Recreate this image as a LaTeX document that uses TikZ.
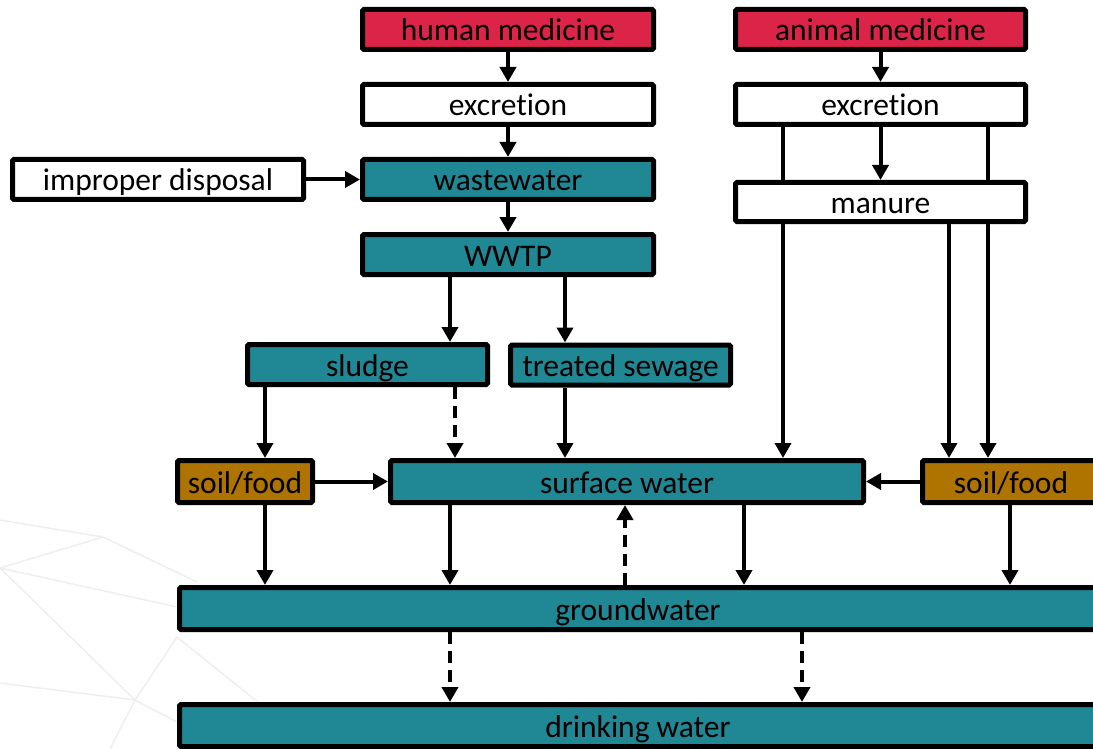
\documentclass[tikz,border=0pt]{standalone}
\usepackage{fontspec}
\setmainfont{Carlito}[Ligatures={NoCommon}]
\usetikzlibrary{arrows.meta}
\definecolor{medred}{RGB}{220,35,72}
\definecolor{tealc}{RGB}{32,135,148}
\definecolor{soil}{RGB}{175,115,0}
\definecolor{faint}{RGB}{238,238,238}
\tikzset{
  box/.style={draw, line width=5pt, rounded corners=1.5pt, inner sep=0pt,
    font=\fontsize{31.5}{36}\selectfont, text=black, text height=24pt, text depth=1pt,
    minimum height=40pt, anchor=center},
  redbox/.style={box, fill=medred},
  whitebox/.style={box, fill=white},
  tealbox/.style={box, fill=tealc},
  soilbox/.style={box, fill=soil},
  arr/.style={line width=4pt, -{Triangle[length=15pt,width=16pt]}},
  darr/.style={arr, dash pattern=on 12pt off 7pt},
  bgline/.style={faint, line width=1.5pt},
}
\begin{document}
\begin{tikzpicture}[x=1pt,y=-1pt]
\useasboundingbox (0,0) rectangle (1093,749);
% faint background lines
\draw[bgline] (0,520) -- (103,537) -- (197,582);
\draw[bgline] (0,568) -- (103,537);
\draw[bgline] (0,568) -- (177,607);
\draw[bgline] (0,568) -- (135,700) -- (177,722);
\draw[bgline] (0,683) -- (135,700) -- (110,749);
\draw[bgline] (177,637) -- (135,700);
\draw[bgline] (177,637) -- (280,720);

% column coordinates
\coordinate (c265) at (265,0);
\coordinate (c450) at (450,0);
\coordinate (c455) at (455,0);
\coordinate (c565) at (565,0);
\coordinate (c625) at (625,0);
\coordinate (c744) at (744,0);
\coordinate (c783) at (783,0);
\coordinate (c802) at (802,0);
\coordinate (c949) at (949,0);
\coordinate (c988) at (988,0);
\coordinate (c1010) at (1010,0);

% nodes
\node[redbox, minimum width=291pt] (hm) at (508,29.5) {human medicine};
\node[whitebox, minimum width=291pt] (ex1) at (508,104.5) {excretion};
\node[tealbox, minimum width=291pt] (ww) at (508,179.5) {wastewater};
\node[tealbox, minimum width=291pt] (wwtp) at (508,254.5) {WWTP};
\node[whitebox, minimum width=291pt] (imp) at (158,179.5) {improper disposal};
\node[redbox, minimum width=290pt] (am) at (880.5,29.5) {animal medicine};
\node[whitebox, minimum width=290pt] (ex2) at (880.5,104.5) {excretion};
\node[tealbox, minimum width=473pt, minimum height=42pt] (sw) at (627,481.5) {surface water};
\node[soilbox, minimum width=177pt, minimum height=42pt] (sf2) at (1011,481.5) {soil/food};

% lines behind manure
\draw[arr] (c783 |- ex2.south) -- (c783 |- sw.north);
\draw[arr] (c988 |- ex2.south) -- (c988 |- sf2.north);

\node[whitebox, minimum width=290pt, minimum height=39pt] (man) at (880.5,202) {manure};
\node[tealbox, minimum width=240pt] (sl) at (367.5,364.5) {sludge};
\node[tealbox, minimum width=220pt] (ts) at (620.5,365) {treated sewage};
\node[soilbox, minimum width=135pt, minimum height=42pt] (sf1) at (245,481.5) {soil/food};
\node[tealbox, minimum width=917pt, minimum height=42pt] (gw) at (638,608.5) {groundwater};
\node[tealbox, minimum width=917pt, minimum height=42pt] (dw) at (638,725.5) {drinking water};

% connectors
\draw[arr] (hm) -- (ex1);
\draw[arr] (ex1) -- (ww);
\draw[arr] (ww) -- (wwtp);
\draw[arr] (imp) -- (ww);
\draw[arr] (am) -- (ex2);
\draw[arr] (ex2) -- (man);
\draw[arr] (c450 |- wwtp.south) -- (c450 |- sl.north);
\draw[arr] (c565 |- wwtp.south) -- (c565 |- ts.north);
\draw[arr] (c265 |- sl.south) -- (c265 |- sf1.north);
\draw[darr] (c455 |- sl.south) -- (c455 |- sw.north);
\draw[arr] (c565 |- ts.south) -- (c565 |- sw.north);
\draw[arr] (sf1) -- (sw);
\draw[arr] (sf2) -- (sw);
\draw[arr] (c949 |- man.south) -- (c949 |- sf2.north);
\draw[arr] (c265 |- sf1.south) -- (c265 |- gw.north);
\draw[arr] (c450 |- sw.south) -- (c450 |- gw.north);
\draw[arr] (c744 |- sw.south) -- (c744 |- gw.north);
\draw[darr] (c625 |- gw.north) -- (c625 |- sw.south);
\draw[arr] (c1010 |- sf2.south) -- (c1010 |- gw.north);
\draw[darr] (c450 |- gw.south) -- (c450 |- dw.north);
\draw[darr] (c802 |- gw.south) -- (c802 |- dw.north);
\end{tikzpicture}
\end{document}
